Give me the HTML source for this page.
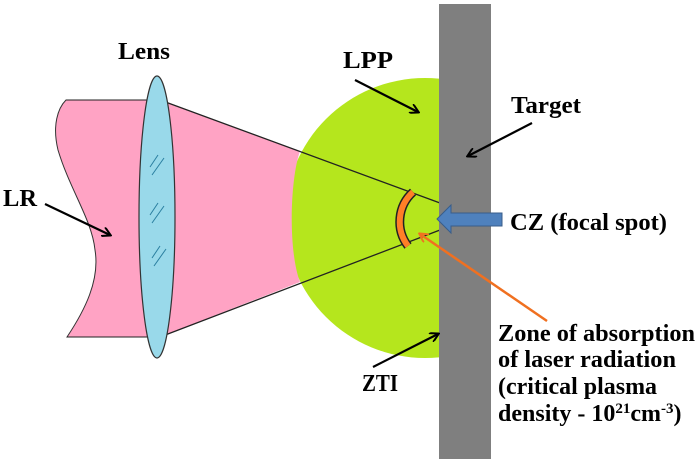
<!DOCTYPE html>
<html><head><meta charset="utf-8"><style>
html,body{margin:0;padding:0;background:#fff;width:700px;height:463px;overflow:hidden}
</style></head><body>
<svg width="700" height="463" viewBox="0 0 700 463" xmlns="http://www.w3.org/2000/svg">
<defs>
<marker id="ah" markerWidth="10" markerHeight="10" refX="8" refY="5" orient="auto" markerUnits="userSpaceOnUse">
<path d="M0,0 L9,5 L0,10" fill="none" stroke="#000" stroke-width="2"/></marker>
<marker id="ao" markerWidth="10" markerHeight="10" refX="8" refY="5" orient="auto" markerUnits="userSpaceOnUse">
<path d="M0,0 L9,5 L0,10" fill="none" stroke="#f07020" stroke-width="2"/></marker>
<clipPath id="cl"><rect x="0" y="0" width="440" height="463"/></clipPath>
</defs>
<circle cx="425" cy="218" r="140" fill="#b5e61d" clip-path="url(#cl)"/>
<path d="M66,100 L160,100 L160,337 L67,337 C85,310 100,280 95,250 C92,220 70,190 58,150 C52,125 58,108 66,100 Z" fill="#ffa3c4" stroke="#333" stroke-width="1"/>
<path d="M160,100 L300,151 C290,180 288,250 300,282 L160,337 Z" fill="#ffa3c4"/>
<line x1="160" y1="100" x2="440" y2="203" stroke="#222" stroke-width="1.3"/>
<line x1="160" y1="337" x2="440" y2="230" stroke="#222" stroke-width="1.3"/>
<line x1="66" y1="100" x2="160" y2="100" stroke="#222" stroke-width="1"/>
<line x1="67" y1="337" x2="160" y2="337" stroke="#222" stroke-width="1"/>
<ellipse cx="157" cy="217" rx="18" ry="141" fill="#99d9ea" stroke="#333" stroke-width="1.2"/>
<g stroke="#2a7fa0" stroke-width="1">
<line x1="150" y1="167" x2="158" y2="155"/><line x1="152" y1="175" x2="164" y2="158"/>
<line x1="150" y1="215" x2="158" y2="203"/><line x1="152" y1="223" x2="164" y2="206"/>
<line x1="152" y1="258" x2="160" y2="246"/><line x1="154" y1="266" x2="166" y2="249"/>
</g>
<rect x="439" y="4" width="52" height="455" fill="#7f7f7f"/>
<path d="M413,192 A40,40 0 0,0 408,246" fill="none" stroke="#222" stroke-width="9"/>
<path d="M413,192 A40,40 0 0,0 408,246" fill="none" stroke="#ff7f27" stroke-width="6"/>
<path d="M437,219 L451,205 L451,213 L502,213 L502,226 L451,226 L451,233 Z" fill="#4f81bd" stroke="#385d8a" stroke-width="1"/>
<g stroke="#000" stroke-width="2.2" fill="none">
<line x1="45" y1="204" x2="110" y2="235" marker-end="url(#ah)"/>
<line x1="355" y1="80" x2="418" y2="112" marker-end="url(#ah)"/>
<line x1="532" y1="123" x2="468" y2="156" marker-end="url(#ah)"/>
<line x1="373" y1="367" x2="438" y2="334" marker-end="url(#ah)"/>
</g>
<line x1="547" y1="321" x2="420" y2="234" stroke="#f07020" stroke-width="2.5" marker-end="url(#ao)"/>
<g font-family="Liberation Serif, Times New Roman, serif" font-weight="bold" font-size="24" fill="#000">
<text x="118" y="59" textLength="52" lengthAdjust="spacingAndGlyphs">Lens</text>
<text x="343" y="68" textLength="50" lengthAdjust="spacingAndGlyphs">LPP</text>
<text x="511" y="113" textLength="70" lengthAdjust="spacingAndGlyphs">Target</text>
<text x="3" y="206" textLength="34" lengthAdjust="spacingAndGlyphs">LR</text>
<text x="510" y="230" textLength="157" lengthAdjust="spacingAndGlyphs">CZ (focal spot)</text>
<text x="362" y="391" textLength="36" lengthAdjust="spacingAndGlyphs">ZTI</text>
<text x="498" y="341" textLength="197" lengthAdjust="spacingAndGlyphs">Zone of absorption</text>
<text x="498" y="367" textLength="178" lengthAdjust="spacingAndGlyphs">of laser radiation</text>
<text x="498" y="394" textLength="159" lengthAdjust="spacingAndGlyphs">(critical plasma</text>
<text x="498" y="421">density - 10<tspan font-size="15" dy="-8">21</tspan><tspan dy="8">cm</tspan><tspan font-size="15" dy="-8">-3</tspan><tspan dy="8">)</tspan></text>
</g>
</svg>
</body></html>
